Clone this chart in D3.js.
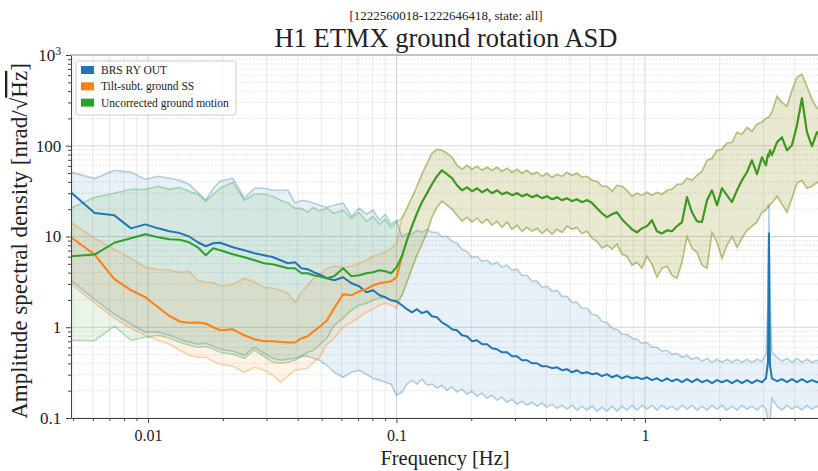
<!DOCTYPE html>
<html>
<head>
<meta charset="utf-8">
<script src="https://cdn.jsdelivr.net/npm/d3@7"></script>
<style>
  body { margin: 0; background: #fff; }
  text { font-family: "Liberation Serif", "DejaVu Serif", serif; fill: #222; }
</style>
</head>
<body>
<svg id="chart" width="818" height="471"></svg>
<script>
// frequency bins [Hz]
var freqLow = [0.00488,0.0061,0.00732,0.00854,0.00976,0.01098,0.0122,0.01342,0.01464,0.01586,0.01708,0.0183,0.01952,0.02196,0.0244,0.02684,0.02928,0.03172,0.03416,0.0366,0.03904,0.04148,0.04392,0.04636,0.0488,0.05246,0.05612,0.061,0.06588,0.07076,0.07564,0.08052,0.0854,0.09028,0.09516,0.10004];
var freqHigh = [0.1052,0.1102,0.1154,0.1209,0.1266,0.1327,0.1389,0.1455,0.1524,0.1597,0.1673,0.1752,0.1835,0.1922,0.2013,0.2109,0.2209,0.2314,0.2424,0.2539,0.2659,0.2785,0.2917,0.3055,0.3199,0.3351,0.3510,0.3677,0.3851,0.4034,0.4225,0.4425,0.4634,0.4855,0.5085,0.5326,0.5578,0.5843,0.6120,0.6410,0.6714,0.7032,0.7366,0.7715,0.8081,0.8464,0.8865,0.9286,0.9726,1.019,1.067,1.118,1.171,1.226,1.284,1.345,1.409,1.476,1.546,1.619,1.696,1.777,1.861,1.949,2.041,2.138,2.239,2.346,2.457,2.573,2.696,2.823,2.957,3.069,3.126,3.155,3.184,3.244,3.398,3.559,3.727,3.904,4.090,4.283,4.486,4.699,4.922,5.06];

// BRS RY OUT: median, upper and lower percentile
var blueMedLow = [30.9,18.2,17.1,12.3,13.6,12.3,11.4,10.9,10.0,8.64,7.81,8.42,8.53,7.61,7.05,6.53,6.21,5.95,5.47,5.07,5.20,4.47,4.36,4.04,3.84,3.47,3.30,3.56,3.05,2.83,2.43,2.56,2.25,2.14,1.98,1.93];
var blueMedHigh = [1.75,1.58,1.46,1.58,1.43,1.50,1.32,1.29,1.13,1.05,0.95,0.927,0.816,0.795,0.70,0.719,0.649,0.649,0.587,0.572,0.530,0.530,0.479,0.479,0.433,0.433,0.401,0.401,0.371,0.371,0.354,0.362,0.336,0.345,0.319,0.336,0.311,0.319,0.304,0.311,0.289,0.304,0.281,0.296,0.274,0.289,0.274,0.281,0.268,0.281,0.261,0.274,0.254,0.274,0.254,0.268,0.248,0.268,0.248,0.268,0.248,0.261,0.242,0.261,0.248,0.261,0.242,0.261,0.242,0.261,0.242,0.261,0.248,0.274,0.411,10.8,0.381,0.274,0.254,0.268,0.248,0.268,0.248,0.268,0.248,0.261,0.248,0.254];
var blueUpLow = [51.4,43.5,53.7,51.1,42.8,46.1,43.9,41.7,37.6,30.7,25.1,34.0,40.6,43.9,26.4,34.0,34.0,32.3,32.3,32.3,23.4,25.1,24.5,23.4,22.1,21.0,22.1,23.4,16.7,20.5,17.6,19.5,15.1,17.6,13.6,15.1];
var blueUpHigh = [10.0,10.8,10.6,11.7,11.1,12.0,11.1,11.1,10.0,10.0,8.86,8.42,7.24,6.87,5.90,6.05,5.33,5.47,4.95,5.20,4.59,4.82,4.25,4.36,3.74,3.74,3.22,3.22,2.76,2.83,2.49,2.56,2.19,2.19,1.88,1.88,1.62,1.62,1.39,1.36,1.16,1.13,0.975,0.95,0.837,0.837,0.757,0.738,0.666,0.683,0.602,0.602,0.544,0.558,0.503,0.517,0.467,0.491,0.444,0.467,0.422,0.455,0.411,0.444,0.411,0.444,0.411,0.444,0.411,0.444,0.411,0.444,0.422,0.503,1.98,22.7,1.98,0.530,0.467,0.422,0.455,0.411,0.455,0.411,0.444,0.411,0.433,0.422];
var blueLoLow = [3.30,2.03,1.39,1.08,0.88,0.88,0.816,0.738,0.683,0.649,0.666,0.617,0.572,0.544,0.491,0.602,0.517,0.455,0.433,0.444,0.455,0.479,0.479,0.455,0.433,0.381,0.319,0.281,0.319,0.336,0.304,0.273,0.261,0.248,0.236,0.178];
var blueLoHigh = [0.193,0.236,0.261,0.236,0.268,0.230,0.236,0.213,0.230,0.202,0.219,0.193,0.208,0.183,0.197,0.174,0.188,0.165,0.178,0.157,0.169,0.149,0.161,0.142,0.153,0.138,0.149,0.135,0.146,0.131,0.142,0.128,0.138,0.125,0.138,0.122,0.135,0.122,0.135,0.119,0.131,0.119,0.135,0.119,0.135,0.122,0.138,0.122,0.138,0.125,0.138,0.122,0.138,0.125,0.135,0.122,0.138,0.125,0.138,0.122,0.135,0.122,0.138,0.125,0.138,0.122,0.135,0.122,0.138,0.125,0.135,0.122,0.138,0.125,0.0898,0.0697,0.0945,0.165,0.135,0.122,0.138,0.125,0.135,0.122,0.138,0.125,0.135,0.128];

// Uncorrected ground motion
var greenMedLow = [6.05,6.33,8.53,9.56,10.6,9.79,9.33,9.2,8.64,7.61,6.21,7.42,7.05,6.37,5.90,5.47,5.07,4.95,4.70,4.47,4.47,3.94,3.94,3.74,3.65,3.47,3.65,4.47,3.65,3.74,3.94,4.04,4.25,4.14,3.94,4.59];
var greenMedHigh = [6.05,9.09,13.0,18.0,23.9,30.0,37.6,46.1,53.7,48.5,43.9,36.7,32.3,34.9,31.5,34.0,30.7,33.1,30.0,32.3,29.2,30.7,28.5,30.0,27.8,29.2,27.1,28.5,26.4,27.8,25.7,27.1,25.1,26.4,24.5,25.7,23.9,25.1,23.4,20.5,18.0,16.3,17.6,18.5,15.5,13.6,12.0,11.1,12.3,13.0,15.1,11.4,10.8,11.7,11.4,13.0,14.4,27.1,18.5,14.7,14.4,25.1,32.3,22.1,34.0,28.5,23.9,32.3,41.7,51.1,69.2,48.5,74.6,61.0,80.6,76.7,89.2,78.6,109,124,89.2,101,168,334,141,98.7,141,130];
var greenUpLow = [20.5,27.1,29.9,33.1,33.1,35.8,33.1,34.6,31.5,29.2,24.5,29.2,34.0,39.6,25.1,29.2,29.2,27.8,25.1,23.4,20.5,20.5,18.5,21.0,19.0,20.5,18.0,19.5,15.9,18.5,14.7,16.7,13.6,15.5,12.6,14.4];
var greenUpHigh = [15.9,20.5,27.1,35.8,48.5,64.1,82.7,91.5,89.2,82.7,74.6,61.0,55.1,61.0,55.1,59.5,53.7,58.0,53.7,58.0,52.4,56.6,51.1,55.1,49.8,53.7,48.5,51.1,46.1,49.8,45.0,48.5,46.1,51.1,47.3,49.8,45.0,46.1,41.7,40.6,35.8,35.8,31.5,36.7,35.8,32.3,27.8,30.0,28.5,30.7,28.5,30.7,29.2,32.3,33.1,37.6,37.6,43.9,41.7,47.3,52.4,69.2,72.8,89.2,91.5,107,109,141,134,159,144,173,182,201,206,206,217,234,351,301,272,409,568,613,452,325,259,246];
var greenLoLow = [0.719,0.71,1.03,0.719,0.776,0.816,0.757,0.683,0.633,0.602,0.617,0.572,0.530,0.503,0.455,0.558,0.479,0.411,0.401,0.411,0.433,0.479,0.530,0.558,0.633,0.757,1.05,1.26,1.54,1.75,1.84,1.98,2.09,2.14,1.98,1.88];
var greenLoHigh = [2.25,3.13,4.47,6.21,8.22,11.1,16.3,21.0,24.5,22.1,20.0,17.1,14.7,16.3,14.4,15.9,14.0,15.5,13.3,14.7,12.6,14.4,12.0,13.3,11.4,12.6,11.4,12.3,10.8,12.0,10.6,12.0,11.1,13.0,12.0,12.6,10.8,11.4,9.56,8.86,7.42,8.01,7.24,8.22,6.37,6.05,4.82,5.20,4.47,6.05,4.95,3.56,4.47,4.70,3.74,3.47,5.20,10.0,7.42,6.70,4.82,4.47,11.1,8.64,5.76,8.01,10.0,7.61,9.56,11.7,13.0,14.4,18.5,19.5,21.5,21.0,22.7,23.4,27.8,22.7,18.5,26.4,38.6,41.7,34.0,35.8,39.6,37.6];

// Tilt-subtracted ground: only differs from uncorrected below ~0.1 Hz
var orangeMedLow = [9.87,6.33,3.39,2.56,2.14,1.66,1.33,1.16,1.12,1.13,1.10,1.00,0.927,0.95,0.816,0.738,0.70,0.70,0.69,0.68,0.68,0.757,0.795,0.90,1.00,1.19,1.62,2.31,2.25,2.49,2.63,2.90,3.05,3.13,3.22,3.56];
var orangeUpLow = [14.4,9.56,7.24,5.76,4.59,4.36,4.25,4.04,4.14,3.30,3.13,3.13,2.83,2.98,3.47,3.13,2.76,2.69,2.56,2.37,1.88,2.43,2.90,3.47,3.74,4.47,4.70,4.59,4.70,5.07,5.47,6.05,6.37,6.70,7.42,8.42];
var orangeLoLow = [3.05,1.84,1.26,0.975,0.816,0.719,0.649,0.558,0.491,0.467,0.467,0.422,0.391,0.371,0.319,0.362,0.336,0.296,0.248,0.289,0.336,0.345,0.354,0.411,0.455,0.649,0.757,1.00,1.13,1.29,1.46,1.58,1.75,1.84,1.75,1.62];

var xTicks = [0.01, 0.1, 1];
var yTicks = [0.1, 1, 10, 100, 1000];
var seriesNames = ["BRS RY OUT", "Tilt-subt. ground SS", "Uncorrected ground motion"];
var colors = ["#1f77b4", "#ff7f0e", "#2ca02c"];

var freq = freqLow.concat(freqHigh);
var series = [
    {med: blueMedLow.concat(blueMedHigh), up: blueUpLow.concat(blueUpHigh), lo: blueLoLow.concat(blueLoHigh)},
    {med: orangeMedLow.concat(greenMedHigh), up: orangeUpLow.concat(greenUpHigh), lo: orangeLoLow.concat(greenLoHigh)},
    {med: greenMedLow.concat(greenMedHigh), up: greenUpLow.concat(greenUpHigh), lo: greenLoLow.concat(greenLoHigh)}
];

// plot box (window.top is reserved, so prefix the names)
var pLeft = 71, pRight = 818, pTop = 55, pBottom = 418;

var svg = d3.select("#chart");

var x = d3.scaleLog().domain([0.0049, 4.97]).range([pLeft, pRight]);
var y = d3.scaleLog().domain([0.1, 1000]).range([pBottom, pTop]);

// minor tick positions
var xMinor = [];
[0.001, 0.01, 0.1, 1].forEach(function(d) {
    for (var k = 2; k <= 9; k++) {
        var v = d * k;
        if (v >= 0.0049 && v <= 4.97) xMinor.push(v);
    }
});
var yMinor = [];
[0.1, 1, 10, 100].forEach(function(d) {
    for (var k = 2; k <= 9; k++) yMinor.push(d * k);
});

// grid
var grid = svg.append("g");
grid.selectAll(".gxm").data(xMinor).enter().append("line")
    .attr("x1", function(d) { return x(d); }).attr("x2", function(d) { return x(d); })
    .attr("y1", pTop).attr("y2", pBottom)
    .attr("stroke", "#e4e4e4").attr("stroke-width", 0.8);
grid.selectAll(".gym").data(yMinor).enter().append("line")
    .attr("x1", pLeft).attr("x2", pRight)
    .attr("y1", function(d) { return y(d); }).attr("y2", function(d) { return y(d); })
    .attr("stroke", "#dedede").attr("stroke-width", 0.8).attr("stroke-dasharray", "2,1.5");
grid.selectAll(".gx").data(xTicks).enter().append("line")
    .attr("x1", function(d) { return x(d); }).attr("x2", function(d) { return x(d); })
    .attr("y1", pTop).attr("y2", pBottom)
    .attr("stroke", "#d6d6d6").attr("stroke-width", 1);
grid.selectAll(".gy").data(yTicks).enter().append("line")
    .attr("x1", pLeft).attr("x2", pRight)
    .attr("y1", function(d) { return y(d); }).attr("y2", function(d) { return y(d); })
    .attr("stroke", "#d6d6d6").attr("stroke-width", 1);

svg.append("clipPath").attr("id", "clip")
    .append("rect").attr("x", pLeft).attr("y", pTop)
    .attr("width", pRight - pLeft).attr("height", pBottom - pTop);

var plot = svg.append("g").attr("clip-path", "url(#clip)");

function lineOf(arr) {
    return d3.line()
        .x(function(d, i) { return x(freq[i]); })
        .y(function(d) { return y(d); })(arr);
}

// bands
series.forEach(function(s, j) {
    var area = d3.area()
        .x(function(d, i) { return x(freq[i]); })
        .y0(function(d, i) { return y(s.lo[i]); })
        .y1(function(d, i) { return y(s.up[i]); });
    plot.append("path").attr("d", area(s.med))
        .attr("fill", colors[j]).attr("fill-opacity", 0.1);
    [s.up, s.lo].forEach(function(arr) {
        plot.append("path").attr("d", lineOf(arr))
            .attr("fill", "none").attr("stroke", colors[j])
            .attr("stroke-opacity", 0.32).attr("stroke-width", 1.6);
    });
});

// medians
series.forEach(function(s, j) {
    plot.append("path").attr("d", lineOf(s.med))
        .attr("fill", "none").attr("stroke", colors[j])
        .attr("stroke-width", 2).attr("stroke-linejoin", "round");
});

// axes
var xAxis = svg.append("g").attr("transform", "translate(0," + pBottom + ")")
    .call(d3.axisBottom(x).tickValues(xTicks).tickSize(5).tickSizeOuter(0)
        .tickFormat(function(d) { return d === 0.01 ? "0.01" : d === 0.1 ? "0.1" : "1"; }));
svg.append("g").attr("transform", "translate(0," + pBottom + ")")
    .call(d3.axisBottom(x).tickValues(xMinor).tickSize(3).tickFormat(""))
    .select(".domain").remove();
xAxis.selectAll(".tick text").attr("font-size", 16).attr("dy", "0.95em");

var yAxis = svg.append("g").attr("transform", "translate(" + pLeft + ",0)")
    .call(d3.axisLeft(y).tickValues(yTicks).tickSize(5).tickSizeOuter(0)
        .tickFormat(function(d) { return d === 0.1 ? "0.1" : d === 1000 ? "10" : String(d); }));
svg.append("g").attr("transform", "translate(" + pLeft + ",0)")
    .call(d3.axisLeft(y).tickValues(yMinor).tickSize(3).tickFormat(""))
    .select(".domain").remove();
yAxis.selectAll(".tick text").attr("font-size", 17).attr("dx", "-0.1em");
yAxis.selectAll(".tick text").filter(function(d) { return d === 1000; })
    .append("tspan").attr("dy", "-0.5em").attr("font-size", "0.7em").text("3");

svg.selectAll(".domain, .tick line").attr("stroke", "#444");
svg.selectAll(".tick text").style("font-family", "'Liberation Serif', serif").attr("fill", "#222");

svg.append("line").attr("x1", pLeft).attr("x2", pRight).attr("y1", pTop).attr("y2", pTop)
    .attr("stroke", "#999").attr("stroke-width", 1);

// titles
svg.append("text").attr("x", 446).attr("y", 20).attr("text-anchor", "middle")
    .attr("font-size", 13).text("[1222560018-1222646418, state: all]");
svg.append("text").attr("x", 446).attr("y", 47).attr("text-anchor", "middle")
    .attr("font-size", 26.5).text("H1 ETMX ground rotation ASD");
svg.append("text").attr("x", 445).attr("y", 465).attr("text-anchor", "middle")
    .attr("font-size", 20.5).text("Frequency [Hz]");

var yl = svg.append("text").attr("transform", "translate(27,241) rotate(-90)")
    .attr("text-anchor", "middle").attr("font-size", 23);
yl.append("tspan").text("Amplitude spectral density [nrad/\u221A");
yl.append("tspan").style("text-decoration", "overline").text("Hz");
yl.append("tspan").text("]");

// legend
var lg = svg.append("g");
lg.append("rect").attr("x", 76).attr("y", 61).attr("width", 160).attr("height", 54)
    .attr("rx", 2).attr("fill", "#fff").attr("fill-opacity", 0.85)
    .attr("stroke", "#cccccc");
seriesNames.forEach(function(name, i) {
    lg.append("rect").attr("x", 81).attr("y", 66 + i * 16.3).attr("width", 13).attr("height", 8)
        .attr("fill", colors[i]);
    lg.append("text").attr("x", 101).attr("y", 74 + i * 16.3).attr("font-size", 11.5).text(name);
});
</script>
</body>
</html>
